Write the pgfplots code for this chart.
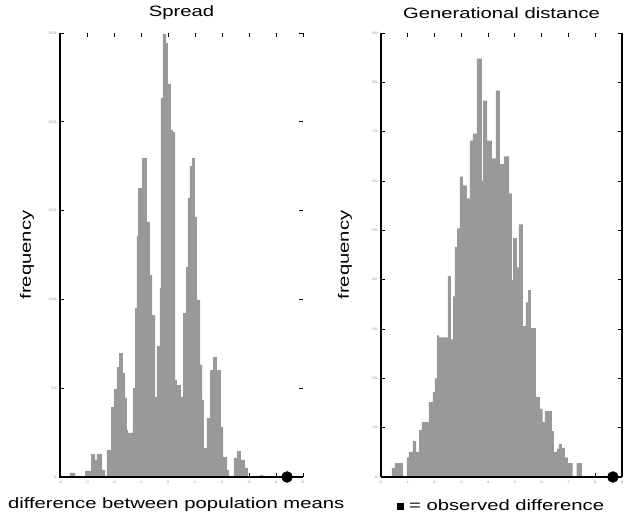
\documentclass[border=0pt]{standalone}
\usepackage{pgfplots}
\pgfplotsset{compat=1.18}
\usepackage{fontspec}
\setmainfont{Liberation Sans}[FakeStretch=1.35]
\definecolor{barg}{RGB}{153,153,153}
\pgfplotsset{hist/.style={
  scale only axis, height=444pt, anchor=south west,
  axis line style={draw=none},
  tick align=inside, xtick pos=both, ytick pos=both,
  major tick length=4pt,
  tick style={draw=black, line width=0.8pt},
  /pgf/number format/assume math mode=true,
  ticklabel style={font=\fontsize{3.5}{4}\selectfont, text=black!40},
  xticklabel style={yshift=-1pt},
  clip=false, ymin=0,
  label style={font=\fontsize{15}{18}\selectfont},
  title style={font=\fontsize{15}{18}\selectfont, anchor=center, at={(axis description cs:0.5,1.032)}},
}}
\begin{document}
\begin{tikzpicture}
\useasboundingbox (0,0) rectangle (635pt,519pt);
% ---------------- Spread ----------------
\begin{axis}[hist, at={(60pt,42pt)}, width=243pt,
  xmin=-4, xmax=5, xtick={-4,...,5},
  ymax=250, ytick={0,50,...,250},
  title={Spread},
  xlabel={difference between population means},
  xlabel style={anchor=center, at={(axis description cs:0.478,-0.063)}},
  ylabel={frequency},
  ylabel style={anchor=center, at={(axis description cs:-0.136,0.5)}},
]
\addplot[const plot, fill=barg, draw=none] coordinates {
(-3.63,2.3) (-3.44,0) (-3.07,3.4) (-2.85,12.9) (-2.70,9.6) (-2.63,12.9)
(-2.44,3.9) (-2.33,0) (-2.26,15.2) (-2.11,39.4) (-2.00,49.5) (-1.89,61.9)
(-1.81,69.8) (-1.67,58.6) (-1.59,44.5) (-1.52,26.5) (-1.48,24.8) (-1.30,50.1)
(-1.22,95.1) (-1.15,135.7) (-1.11,162.7) (-0.96,179.6) (-0.78,143.6)
(-0.67,113.7) (-0.59,91.2) (-0.48,45.0) (-0.41,73.8) (-0.30,106.4)
(-0.26,213.4) (-0.19,249.4) (-0.07,244.3) (0.00,221.3) (0.11,195.4)
(0.19,194.2) (0.26,54.6) (0.33,51.8) (0.48,45.0) (0.56,92.3) (0.67,118.2)
(0.74,157.1) (0.81,175.1) (0.89,179.6) (1.00,146.4) (1.07,99.7) (1.19,63.1)
(1.26,43.4) (1.33,16.3) (1.44,33.2) (1.56,60.2) (1.67,67.6) (1.81,60.2)
(1.96,28.2) (2.04,11.3) (2.19,3.9) (2.26,0) (2.44,10.7) (2.56,14.6)
(2.70,9.6) (2.85,5.1) (2.96,0) (3.41,1.1) (3.52,0)
} \closedcycle;
\draw[line width=1.3pt] (rel axis cs:0,1) -- (rel axis cs:0,0) -- (rel axis cs:1,0);
\addplot[only marks, mark=*, mark size=5.5pt, black] coordinates {(4.41,0)};
\end{axis}
% ---------------- Generational distance ----------------
\begin{axis}[hist, at={(381pt,42pt)}, width=241pt,
  xmin=0, xmax=9, xtick={0,...,9},
  ymax=90, ytick={0,10,...,90},
  title={Generational distance},
  xlabel={\raisebox{0.5pt}{\rule{7pt}{7pt}} = observed difference},
  xlabel style={anchor=center, at={(axis description cs:0.495,-0.063)}},
  ylabel={frequency},
  ylabel style={anchor=center, at={(axis description cs:-0.149,0.5)}},
]
\addplot[const plot, fill=barg, draw=none] coordinates {
(0.41,1.8) (0.52,2.8) (0.82,0) (0.97,4.0) (1.04,5.1) (1.19,7.3) (1.31,5.1)
(1.42,9.5) (1.53,11.1) (1.79,15.2) (1.94,17.2) (2.01,20.0) (2.09,28.7)
(2.16,28.3) (2.50,40.7) (2.61,27.9) (2.69,36.6) (2.76,46.6) (2.84,50.4)
(2.95,60.9) (3.06,59.1) (3.21,56.5) (3.32,68.2) (3.43,69.6) (3.58,84.8)
(3.77,60.1) (3.81,76.3) (3.96,68.2) (4.14,64.6) (4.29,78.3) (4.44,63.4)
(4.59,65.0) (4.78,57.5) (4.89,39.9) (4.93,48.4) (5.07,42.5) (5.15,51.2)
(5.30,30.6) (5.41,35.4) (5.49,37.9) (5.60,30.2) (5.78,16.2) (5.93,13.8)
(6.04,11.1) (6.12,13.4) (6.38,9.3) (6.46,5.1) (6.57,5.7) (6.64,6.7)
(6.75,5.9) (6.87,4.0) (6.98,2.8) (7.16,0) (7.31,2.8) (7.50,0)
} \closedcycle;
\draw[line width=1.3pt] (rel axis cs:0,0) -- (rel axis cs:1,0);
\draw[line width=1.3pt] (rel axis cs:0,0) -- (rel axis cs:0,1);
\draw[line width=1.3pt] (rel axis cs:1,0) -- (rel axis cs:1,1);
\addplot[only marks, mark=*, mark size=5.5pt, black] coordinates {(8.66,0)};
\end{axis}
\end{tikzpicture}
\end{document}
